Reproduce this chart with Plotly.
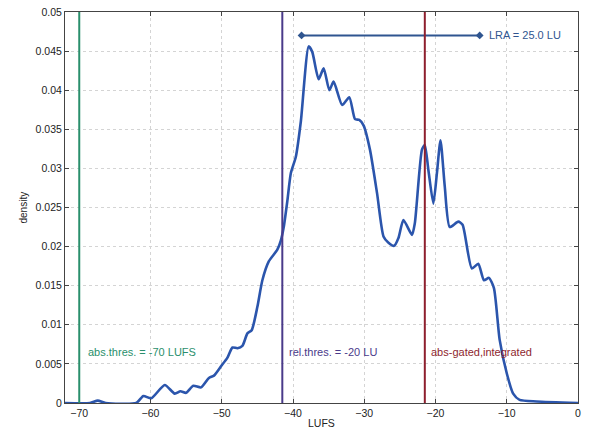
import plotly.graph_objects as go

lufs = [-72, -68.5, -67.4, -66.3, -62, -61, -59.9, -58, -56.6, -55.8, -55, -54, -52.9,
        -51.8, -51.1, -50.1, -49.2, -48.5, -47.8, -47.1, -46.4, -45.8, -45, -44.3, -43.4,
        -42.2, -41.7, -41.3, -40.8, -40.3, -39.6, -38.9, -37.8, -37.3, -36.4, -35.7, -34.9,
        -34.3, -33.1, -32.1, -31.3, -30.7, -30.1, -29.2, -28.2, -27.3, -26.6, -25.8, -25.2,
        -24.5, -23.3, -22.9, -21.9, -21.5, -21, -20.3, -19.8, -19.3, -18.7, -18, -16.8,
        -16.2, -14.9, -14, -13.2, -12.5, -11.8, -11, -10, -9.1, -8.2, -5.8, 0]
density = [0, 0, 0.0003, 0, 0, 0.0009, 0.0006, 0.0023, 0.0012, 0.0015, 0.0013, 0.0022, 0.002,
           0.0032, 0.0035, 0.0047, 0.0058, 0.0071, 0.007, 0.0073, 0.0089, 0.0093, 0.0123, 0.0157, 0.0181,
           0.0196, 0.0208, 0.0225, 0.0258, 0.0294, 0.0315, 0.036, 0.0456, 0.0449, 0.0414, 0.0428, 0.040,
           0.0411, 0.0381, 0.0391, 0.0363, 0.0362, 0.0355, 0.0324, 0.0268, 0.0213, 0.0205, 0.0201, 0.0211,
           0.0234, 0.0215, 0.023, 0.0324, 0.033, 0.0298, 0.0255, 0.0294, 0.0336, 0.0277, 0.0225, 0.0232,
           0.0228, 0.0172, 0.0178, 0.0157, 0.016, 0.0147, 0.0081, 0.0038, 0.0012, 0.0004, 0.0002, 0]
assert len(lufs) == len(density)

abs_thres = -70
rel_thres = -41.5
integrated = -21.5
lra_low, lra_high, lra_y = -38.8, -13.8, 0.047
label_y = 0.0065

x_ticks = [-70, -60, -50, -40, -30, -20, -10, 0]
y_ticks = [0, 0.005, 0.01, 0.015, 0.02, 0.025, 0.03, 0.035, 0.04, 0.045, 0.05]
y_tick_text = ["0", "0.005", "0.01", "0.015", "0.02", "0.025", "0.03", "0.035", "0.04", "0.045", "0.05"]

c_curve = "#2B55AC"
c_green = "#2A8F6C"
c_purple = "#4A3A8A"
c_red = "#8E1F2E"
c_lra = "#2F5590"

fig = go.Figure()
fig.add_trace(go.Scatter(x=lufs, y=density, mode="lines",
                         line=dict(color=c_curve, width=2.6, shape="spline", smoothing=0.6),
                         hoverinfo="skip"))
fig.add_trace(go.Scatter(x=[lra_low, lra_high], y=[lra_y, lra_y], mode="lines+markers",
                         line=dict(color=c_lra, width=2),
                         marker=dict(symbol="diamond", size=6, color=c_lra),
                         hoverinfo="skip"))

for xv, col in [(abs_thres, c_green), (rel_thres, c_purple), (integrated, c_red)]:
    fig.add_shape(type="line", x0=xv, x1=xv, y0=0, y1=0.05, xref="x", yref="y",
                  line=dict(color=col, width=2))

font = "Liberation Sans, Arial, sans-serif"
ann = [
    (abs_thres + 0.9, label_y, "abs.thres. = -70 LUFS", c_green),
    (rel_thres + 0.6, label_y, "rel.thres. = -20 LU", c_purple),
    (integrated + 0.6, label_y, "abs-gated,integrated", c_red),
    (lra_high + 1.0, lra_y, "LRA = 25.0 LU", c_lra),
]
for xa, ya, t, col in ann:
    fig.add_annotation(x=xa, y=ya, text=t, showarrow=False, xanchor="left", yanchor="middle",
                       font=dict(size=11, color=col, family=font))

fig.add_annotation(x=0.5, y=0, xref="paper", yref="paper", yshift=-12, text="LUFS", showarrow=False,
                   xanchor="center", yanchor="top", font=dict(size=10.5, color="#222", family=font))
fig.add_annotation(x=0, y=0.5, xref="paper", yref="paper", xshift=-42, text="density", showarrow=False,
                   textangle=-90, xanchor="center", yanchor="middle",
                   font=dict(size=10, color="#222", family=font))

axis_common = dict(showgrid=True, gridcolor="#d4d4d4", griddash="dot", gridwidth=1,
                   showline=True, linecolor="#444", linewidth=1, mirror="ticks",
                   ticks="inside", ticklen=4, tickcolor="#444", automargin=False,
                   tickfont=dict(size=10.5, color="#222", family=font), zeroline=False)

fig.update_xaxes(range=[-72, 0], tickvals=x_ticks, **axis_common)
fig.update_yaxes(range=[0, 0.05], tickvals=y_ticks, ticktext=y_tick_text, **axis_common)

fig.update_layout(width=590, height=429, margin=dict(l=65, r=12, t=12, b=26),
                  plot_bgcolor="white", paper_bgcolor="white", showlegend=False,
                  font=dict(family=font))

fig.write_html("out.html", config={"displayModeBar": False},
               post_script="document.body.style.margin='0';document.body.style.overflow='hidden';")
